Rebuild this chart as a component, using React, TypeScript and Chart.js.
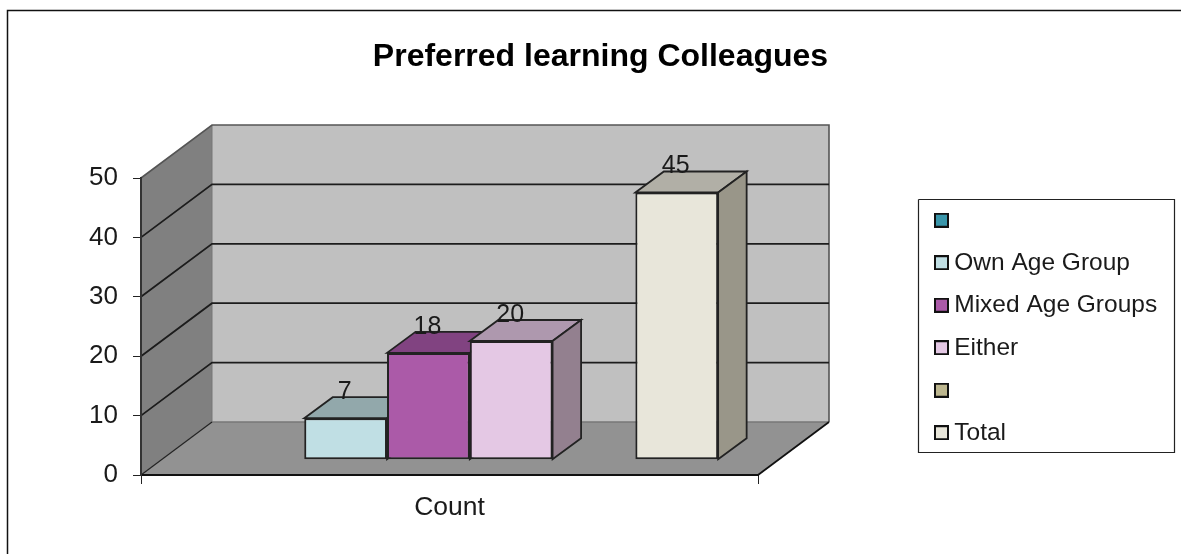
import React, { useEffect, useRef } from "react";
import { Chart, registerables } from "chart.js";

Chart.register(...registerables);

const categories = ["Count"];
const seriesNames = ["", "Own Age Group", "Mixed Age Groups", "Either", "", "Total"];
const seriesValues: (number | null)[] = [null, 7, 18, 20, null, 45];
const frontColors = ["#3A96AA", "#C0DFE4", "#AB5AA8", "#E4C8E4", "#BDB78F", "#E8E6DA"];
const topColors = ["#2B707F", "#92A8AB", "#814381", "#AE98AE", "#8E8A6C", "#B1AFA6"];
const sideColors = ["#235C69", "#7F9699", "#6E396E", "#93808F", "#77735A", "#999689"];
const titleText = "Preferred learning Colleagues";

const FONT = "'Liberation Sans', Arial, sans-serif";
const INK = "#1a1a1a";
const DEPTH = { x: 71, y: -53 };
const BAR_SHIFT = { x: 20.3, y: -15.2 };
const BAR_DEPTH = { x: 28.5, y: -21 };
const LEGEND_BOX = { left: 918, right: 1175, top: 199, bottom: 453 };

function poly(ctx: CanvasRenderingContext2D, pts: number[][], fill?: string, stroke?: string, lw = 1) {
  ctx.beginPath();
  pts.forEach(([x, y], i) => (i ? ctx.lineTo(x, y) : ctx.moveTo(x, y)));
  if (fill) {
    ctx.closePath();
    ctx.fillStyle = fill;
    ctx.fill();
  }
  if (stroke) {
    ctx.strokeStyle = stroke;
    ctx.lineWidth = lw;
    ctx.stroke();
  }
}

function swatch(color: string) {
  const c = document.createElement("canvas");
  c.width = 15;
  c.height = 15;
  const g = c.getContext("2d")!;
  g.fillStyle = color;
  g.fillRect(0, 0, 15, 15);
  g.strokeStyle = "#111";
  g.lineWidth = 2;
  g.strokeRect(1, 1, 13, 13);
  return c;
}

const scene = {
  id: "scene",
  afterLayout(chart: any) {
    const l = chart.legend;
    l.left = 923;
    l.right = LEGEND_BOX.right;
    l.width = l.right - l.left;
    l.top = 190;
    l.bottom = 490;
    l.height = l.bottom - l.top;
    const t = chart.titleBlock;
    t.left = 0;
    t.right = 1201;
  },
  beforeDraw(chart: any) {
    const { ctx, chartArea: a, scales } = chart;
    const y = scales.y;
    const { x: dx, y: dy } = DEPTH;
    ctx.save();
    // page frame
    poly(ctx, [[7.5, 554], [7.5, 10.5], [1181, 10.5]], undefined, "#111", 1.5);
    // legend frame
    poly(ctx, [
      [LEGEND_BOX.left + 0.5, LEGEND_BOX.top + 0.5],
      [LEGEND_BOX.right - 0.5, LEGEND_BOX.top + 0.5],
      [LEGEND_BOX.right - 0.5, LEGEND_BOX.bottom - 0.5],
      [LEGEND_BOX.left + 0.5, LEGEND_BOX.bottom - 0.5],
      [LEGEND_BOX.left + 0.5, LEGEND_BOX.top + 0.5],
    ], undefined, "#222", 1.2);
    const y0 = y.getPixelForValue(0);
    const yMax = y.getPixelForValue(50);
    // back wall
    poly(ctx, [[a.left + dx, yMax + dy], [a.right + dx, yMax + dy], [a.right + dx, y0 + dy], [a.left + dx, y0 + dy]], "#C0C0C0");
    // side wall
    poly(ctx, [[a.left, yMax], [a.left + dx, yMax + dy], [a.left + dx, y0 + dy], [a.left, y0]], "#808080");
    // floor
    poly(ctx, [[a.left, y0], [a.left + dx, y0 + dy], [a.right + dx, y0 + dy], [a.right, y0]], "#929292");
    // wall outlines
    poly(ctx, [[a.left + dx, y0 + dy], [a.right + dx, y0 + dy]], undefined, "#777", 1.5);
    poly(ctx, [[a.left + dx, yMax + dy], [a.left + dx, y0 + dy]], undefined, "#777", 1);
    poly(ctx, [[a.left, yMax], [a.left + dx, yMax + dy], [a.right + dx, yMax + dy], [a.right + dx, y0 + dy]], undefined, "#555", 1.6);
    poly(ctx, [[a.left, y0], [a.left + dx, y0 + dy]], undefined, "#222", 1.2);
    poly(ctx, [[a.right, y0], [a.right + dx, y0 + dy]], undefined, "#111", 1.8);
    // gridlines
    y.ticks.forEach((t: any) => {
      if (t.value === 0 || t.value === 50) return;
      const p = y.getPixelForValue(t.value);
      poly(ctx, [[a.left, p], [a.left + dx, p + dy], [a.right + dx, p + dy]], undefined, "#1c1c1c", 1.8);
    });
    ctx.restore();
  },
  beforeDatasetsDraw(chart: any) {
    const { ctx } = chart;
    ctx.save();
    ctx.translate(BAR_SHIFT.x, BAR_SHIFT.y);
    const { x: bx, y: by } = BAR_DEPTH;
    chart.data.datasets.forEach((d: any, i: number) => {
      if (d.data[0] == null) return;
      const e = chart.getDatasetMeta(i).data[0];
      const hw = e.width / 2;
      const l = e.x - hw;
      const r = e.x + hw;
      const t = e.y;
      const b = e.base;
      poly(ctx, [[l, t], [l + bx, t + by], [r + bx, t + by], [r, t], [l, t]], topColors[i], "#222", 1.8);
      poly(ctx, [[r, t], [r + bx, t + by], [r + bx, b + by], [r, b], [r, t]], sideColors[i], "#222", 1.8);
    });
  },
  afterDatasetsDraw(chart: any) {
    const { ctx } = chart;
    ctx.restore();
    ctx.save();
    ctx.font = `25px ${FONT}`;
    ctx.fillStyle = INK;
    ctx.textAlign = "center";
    ctx.textBaseline = "middle";
    chart.data.datasets.forEach((d: any, i: number) => {
      if (d.data[0] == null) return;
      const e = chart.getDatasetMeta(i).data[0];
      ctx.fillText(String(d.data[0]), e.x + BAR_SHIFT.x - 1, e.y + BAR_SHIFT.y - 26);
    });
    ctx.restore();
  },
};

export default function App() {
  const ref = useRef<HTMLCanvasElement>(null);
  useEffect(() => {
    const chart = new Chart(ref.current!, {
      type: "bar",
      data: {
        labels: categories,
        datasets: seriesNames.map((name, i) => ({
          label: name,
          data: [seriesValues[i]],
          backgroundColor: frontColors[i],
          borderColor: "#222",
          borderWidth: 2,
          borderSkipped: false,
          barPercentage: 1,
          categoryPercentage: 0.805,
        })),
      },
      plugins: [scene],
      options: {
        animation: false,
        responsive: false,
        layout: { padding: { left: 0, right: 323, top: 0, bottom: 0 } },
        plugins: {
          title: {
            display: true,
            text: titleText,
            color: "#000",
            font: { family: FONT, size: 32, weight: "bold" },
            padding: { top: 38, bottom: 101.6 },
          },
          legend: {
            position: "right",
            maxWidth: 100,
            align: "start",
            labels: {
              color: INK,
              font: { family: FONT, size: 24.5 },
              usePointStyle: true,
              pointStyleWidth: 1,
              padding: 18,
              generateLabels: (chart: any) =>
                chart.data.datasets.map((d: any, i: number) => ({
                  text: d.label,
                  pointStyle: swatch(frontColors[i]),
                  datasetIndex: i,
                  fontColor: INK,
                  hidden: false,
                  lineWidth: 0,
                })),
            },
          },
          tooltip: { enabled: false },
        },
        scales: {
          x: {
            afterFit: (s: any) => { s.height = 79; },
            grid: { drawOnChartArea: false, tickLength: 9, tickColor: "#222", offset: true },
            border: { color: "#111", width: 2 },
            ticks: { color: INK, font: { family: FONT, size: 26.5 }, padding: 8 },
          },
          y: {
            min: 0,
            max: 50,
            afterFit: (s: any) => { s.width = 141; },
            grid: { drawOnChartArea: false, tickLength: 8, tickColor: "#222" },
            border: { color: "#333", width: 2 },
            ticks: { stepSize: 10, color: INK, font: { family: FONT, size: 26 }, padding: 15 },
          },
        },
      } as any,
    });
    return () => chart.destroy();
  }, []);
  return (
    <canvas
      ref={ref}
      width={1181}
      height={554}
      style={{ position: "absolute", left: 0, top: 0, display: "block" }}
    />
  );
}
